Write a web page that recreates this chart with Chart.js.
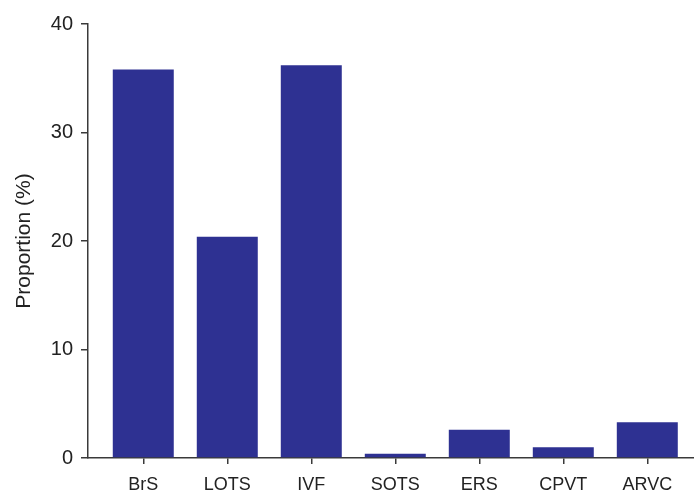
<!DOCTYPE html>
<html>
<head>
<meta charset="utf-8">
<script src="https://cdn.jsdelivr.net/npm/chart.js@4.4.1/dist/chart.umd.min.js"></script>
<style>
  html, body { margin: 0; padding: 0; background: #fff; }
  #wrap { width: 694px; height: 494px; }
</style>
</head>
<body>
<div id="wrap"><canvas id="graphic"></canvas></div>
<script>
const categorias = ['BrS', 'LOTS', 'IVF', 'SOTS', 'ERS', 'CPVT', 'ARVC'];
const proporcoes = [35.8, 20.4, 36.2, 0.4, 2.6, 1.0, 3.3];
const ticksY = [0, 10, 20, 30, 40];

const corBarra = '#2E3192';
const corEixo = '#3a3a3a';
const fonte = "'Liberation Sans', Arial, Helvetica, sans-serif";

const ctx = document.getElementById('graphic');

// eixo x linear para deixar a margem esquerda maior que a direita
const pontos = proporcoes.map((v, i) => ({ x: i, y: v }));

let grafico = new Chart(ctx, {
    type: 'bar',
    data: {
        datasets: [{
            data: pontos,
            backgroundColor: corBarra,
            borderWidth: 0,
            categoryPercentage: 1,
            barPercentage: 0.726
        }]
    },
    options: {
        responsive: true,
        maintainAspectRatio: false,
        animation: false,
        layout: { padding: { top: 24, right: 0, bottom: 0, left: 0 } },
        plugins: {
            legend: { display: false },
            tooltip: { enabled: false }
        },
        scales: {
            x: {
                type: 'linear',
                offset: false,
                min: -0.658,
                max: 6.556,
                afterBuildTicks: scale => {
                    scale.ticks = categorias.map((c, i) => ({ value: i }));
                },
                afterFit: scale => { scale.height = 36; },
                ticks: {
                    callback: (v) => categorias[v] ?? '',
                    color: '#222',
                    font: { family: fonte, size: 18 },
                    padding: 10,
                    maxRotation: 0,
                    autoSkip: false
                },
                grid: {
                    offset: false,
                    drawOnChartArea: false,
                    drawTicks: true,
                    tickLength: 6,
                    color: corEixo,
                    lineWidth: 1.5
                },
                border: { display: true, color: corEixo, width: 1.5 }
            },
            y: {
                min: 0,
                max: 40,
                afterBuildTicks: scale => {
                    scale.ticks = ticksY.map(v => ({ value: v }));
                },
                afterFit: scale => { scale.width = 88; },
                ticks: {
                    color: '#222',
                    font: { family: fonte, size: 20 },
                    padding: 8
                },
                grid: {
                    drawOnChartArea: false,
                    drawTicks: true,
                    tickLength: 7,
                    color: corEixo,
                    lineWidth: 1.5
                },
                border: { display: true, color: corEixo, width: 1.5 },
                title: {
                    display: true,
                    text: 'Proportion (%)',
                    color: '#222',
                    font: { family: fonte, size: 21 },
                    padding: { top: 12, bottom: 0 }
                }
            }
        }
    }
});
</script>
</body>
</html>
